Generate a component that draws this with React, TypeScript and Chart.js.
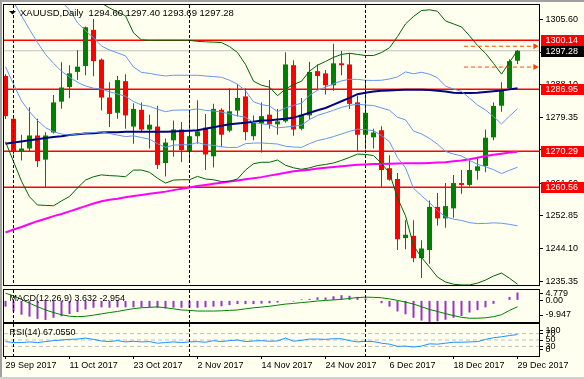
import React, { useEffect, useRef } from 'react';
import { Chart, registerables } from 'chart.js';

Chart.register(...registerables);

const FONT = "'Liberation Sans', Arial, sans-serif";
const BG = '#FFFFF0';

// ---------- data ----------
const dateLabels = ['29 Sep 2017', '11 Oct 2017', '23 Oct 2017', '2 Nov 2017', '14 Nov 2017', '24 Nov 2017', '6 Dec 2017', '18 Dec 2017', '29 Dec 2017'];
const dateLabelBars = [0, 8, 16, 24, 32, 40, 48, 56, 64];
const monthStartBars = [1, 23, 45];

const opens = [
  1290.5, 1279.0, 1270.1, 1271.0, 1274.5, 1268.0, 1275.3, 1283.6, 1287.5, 1291.6,
  1293.2, 1302.9, 1294.9, 1284.7, 1280.6, 1289.1, 1276.9, 1281.4, 1276.1, 1276.9,
  1267.1, 1273.2, 1276.1, 1270.1, 1274.3, 1276.6, 1268.9, 1281.4, 1275.8, 1281.2,
  1285.0, 1274.3, 1277.7, 1280.1, 1277.5, 1278.3, 1293.4, 1276.3, 1279.9, 1291.8,
  1291.2, 1288.0, 1293.9, 1293.6, 1283.4, 1274.7, 1274.0, 1275.9, 1265.7, 1262.8,
  1246.9, 1247.5, 1241.5, 1243.7, 1255.3, 1252.2, 1254.9, 1261.7, 1261.2, 1265.0,
  1266.3, 1274.0, 1282.5, 1287.2, 1294.60];
const highs = [
  1291.0, 1279.5, 1274.7, 1282.1, 1279.0, 1275.4, 1285.4, 1294.2, 1293.4, 1297.4,
  1303.8, 1305.8, 1295.2, 1288.8, 1290.5, 1291.0, 1283.2, 1283.4, 1280.1, 1282.5,
  1273.7, 1278.5, 1278.1, 1281.2, 1284.0, 1280.3, 1283.0, 1281.8, 1287.2, 1288.3,
  1287.2, 1279.9, 1283.4, 1289.4, 1281.65, 1296.9, 1294.7, 1284.6, 1294.3, 1293.6,
  1292.1, 1299.2, 1297.2, 1296.6, 1285.2, 1289.2, 1276.3, 1277.0, 1269.2, 1264.4,
  1251.7, 1251.7, 1246.3, 1257.0, 1259.0, 1261.7, 1263.9, 1265.2, 1267.9, 1268.8,
  1276.1, 1283.4, 1288.8, 1295.0, 1297.40];
const lows = [
  1278.9, 1269.4, 1267.8, 1270.1, 1266.0, 1260.5, 1275.0, 1281.7, 1284.5, 1289.4,
  1290.7, 1290.4, 1281.2, 1276.8, 1279.0, 1276.3, 1272.3, 1275.4, 1271.0, 1265.5,
  1263.5, 1268.8, 1267.3, 1267.6, 1272.3, 1265.2, 1265.9, 1271.5, 1275.4, 1279.6,
  1273.2, 1273.2, 1269.9, 1276.3, 1274.7, 1277.9, 1274.4, 1275.9, 1278.8, 1286.97,
  1285.5, 1286.5, 1290.7, 1281.65, 1270.3, 1270.8, 1271.0, 1260.5, 1262.3, 1243.7,
  1243.9, 1240.4, 1236.2, 1240.0, 1250.3, 1249.7, 1252.4, 1258.8, 1260.8, 1262.6,
  1264.6, 1273.2, 1280.9, 1286.8, 1293.69];
const closes = [
  1279.7, 1270.1, 1271.0, 1274.5, 1267.6, 1274.5, 1283.4, 1287.4, 1291.2, 1293.0,
  1303.6, 1294.5, 1284.7, 1280.3, 1289.4, 1279.9, 1281.65, 1276.1, 1277.4, 1266.6,
  1272.6, 1276.1, 1270.6, 1274.3, 1275.6, 1269.4, 1281.65, 1274.7, 1281.0, 1284.6,
  1275.4, 1277.9, 1279.7, 1277.5, 1278.3, 1293.6, 1276.1, 1280.1, 1291.6, 1290.5,
  1288.0, 1293.9, 1293.4, 1283.0, 1274.7, 1280.6, 1275.3, 1265.2, 1262.6, 1246.6,
  1247.8, 1241.5, 1244.1, 1255.3, 1252.2, 1255.5, 1261.7, 1261.2, 1265.2, 1266.2,
  1273.9, 1282.45, 1286.5, 1294.5, 1297.28];

// Bollinger (20, 2) – green
const bbUpper = [
  1352, 1349, 1345, 1341, 1337, 1333, 1329, 1325, 1321, 1318,
  1315.5, 1312.5, 1310.1, 1308.8, 1307.7, 1306.7, 1302.1, 1300.2, 1300.1, 1300.1,
  1300.1, 1300.1, 1300.1, 1300.1, 1299.8, 1299.7, 1299.6, 1299.5, 1298.4, 1296.8,
  1293.6, 1289.1, 1288.0, 1287.5, 1285.2, 1287.0, 1288.2, 1289.1, 1291.8, 1293.4,
  1294.4, 1295.5, 1296.3, 1296.6, 1296.3, 1296.0, 1296.0, 1296.8, 1298.1, 1301.1,
  1304.5, 1306.5, 1308.1, 1308.3, 1307.9, 1305.3, 1304.5, 1303.7, 1301.3, 1298.7,
  1296.6, 1293.9, 1291.0, 1294.2, 1297.4];
const bbLower = [
  1272.8, 1267.5, 1262.2, 1258.0, 1255.8, 1255.7, 1255.6, 1256.9, 1258.1, 1260.4,
  1262.5, 1263.4, 1263.9, 1263.7, 1263.6, 1263.4, 1265.2, 1265.2, 1264.6, 1263.0,
  1261.7, 1262.5, 1262.6, 1262.6, 1263.5, 1262.8, 1262.6, 1262.1, 1262.2, 1262.8,
  1265.2, 1266.9, 1267.3, 1267.3, 1267.9, 1266.5, 1265.8, 1265.4, 1265.8, 1266.4,
  1266.7, 1267.1, 1267.8, 1268.6, 1269.5, 1269.4, 1269.1, 1267.0, 1264.4, 1257.7,
  1252.9, 1244.9, 1241.7, 1239.1, 1236.4, 1235.1, 1234.5, 1234.3, 1234.3, 1234.8,
  1235.6, 1236.7, 1237.5, 1236.1, 1234.5];
// Bollinger (20, 1) and middle – light blue
const band1Upper = [
  1318, 1317, 1316, 1315.5, 1315, 1314, 1312.5, 1310.5, 1308.3, 1304.8,
  1302.7, 1300.8, 1298.55, 1297.5, 1296.7, 1295.9, 1292.9, 1291.45, 1291.2, 1290.8,
  1290.5, 1290.7, 1290.7, 1290.7, 1290.7, 1290.5, 1290.35, 1290.15, 1289.35, 1288.3,
  1286.5, 1283.55, 1282.8, 1282.45, 1280.9, 1281.9, 1282.6, 1283.2, 1285.3, 1286.65,
  1287.5, 1288.4, 1289.2, 1289.6, 1289.6, 1289.35, 1289.3, 1289.35, 1289.7, 1290.25,
  1291.6, 1291.1, 1291.5, 1291.0, 1290.0, 1287.75, 1287.0, 1286.35, 1284.55, 1282.7,
  1281.35, 1279.6, 1277.6, 1279.7, 1281.7];
const sma20 = [
  1312.3, 1310.4, 1306.7, 1303.0, 1299.5, 1296.3, 1293.9, 1291.8, 1290.2, 1288.8,
  1287.8, 1287.2, 1287.0, 1286.25, 1285.65, 1285.05, 1283.65, 1282.7, 1282.35, 1281.55,
  1280.9, 1281.3, 1281.35, 1281.35, 1281.65, 1281.25, 1281.1, 1280.8, 1280.3, 1279.8,
  1279.4, 1278.0, 1277.65, 1277.4, 1276.55, 1276.75, 1277.0, 1277.25, 1278.8, 1279.9,
  1280.55, 1281.3, 1282.05, 1282.6, 1282.9, 1282.7, 1282.55, 1281.9, 1281.25, 1279.4,
  1278.7, 1275.7, 1274.9, 1273.7, 1272.15, 1270.2, 1269.5, 1269.0, 1267.8, 1266.75,
  1266.1, 1265.3, 1264.25, 1265.15, 1265.95];
const band1Lower = [
  1293.0, 1288.3, 1283.8, 1280.9, 1278.5, 1276.6, 1275.5, 1274.9, 1274.6, 1274.9,
  1275.1, 1275.3, 1275.45, 1275.0, 1274.6, 1274.2, 1274.4, 1273.95, 1273.5, 1272.3,
  1271.3, 1271.9, 1272.0, 1272.0, 1272.6, 1272.0, 1271.85, 1271.45, 1271.25, 1271.3,
  1272.3, 1272.45, 1272.5, 1272.35, 1272.2, 1271.6, 1271.4, 1271.3, 1272.3, 1273.15,
  1273.6, 1274.2, 1274.9, 1275.6, 1276.2, 1276.05, 1275.8, 1274.45, 1272.8, 1268.55,
  1265.8, 1260.3, 1258.3, 1256.4, 1254.3, 1252.65, 1252.0, 1251.65, 1251.05, 1250.8,
  1250.85, 1251.0, 1250.9, 1250.6, 1250.2];
// slow moving averages
const sma100 = [
  1272.3, 1272.6, 1272.9, 1273.2, 1273.5, 1273.8, 1274.1, 1274.3, 1274.6, 1274.8,
  1275.0, 1275.1, 1275.3, 1275.4, 1275.4, 1275.5, 1275.5, 1275.5, 1275.5, 1275.5,
  1275.5, 1275.6, 1275.7, 1275.8, 1275.9, 1276.3, 1276.7, 1277.1, 1277.5, 1277.7,
  1277.9, 1278.2, 1278.5, 1278.6, 1278.8, 1279.0, 1279.3, 1279.9, 1280.6, 1281.3,
  1281.9, 1282.8, 1283.7, 1284.6, 1285.6, 1286.0, 1286.3, 1286.5, 1286.6, 1286.7,
  1286.8, 1286.8, 1286.8, 1286.7, 1286.5, 1286.3, 1286.0, 1285.9, 1285.9, 1286.0,
  1286.2, 1286.4, 1286.6, 1286.9, 1287.2];
const sma200 = [
  1248.4, 1249.2, 1249.9, 1250.7, 1251.45, 1252.1, 1252.8, 1253.4, 1254.1, 1254.8,
  1255.5, 1256.2, 1256.8, 1257.2, 1257.5, 1257.9, 1258.2, 1258.5, 1258.8, 1259.1,
  1259.4, 1259.8, 1260.2, 1260.5, 1260.9, 1261.2, 1261.5, 1261.8, 1262.1, 1262.4,
  1262.7, 1263.0, 1263.3, 1263.7, 1264.1, 1264.5, 1264.9, 1265.1, 1265.3, 1265.6,
  1265.8, 1266.0, 1266.2, 1266.4, 1266.6, 1266.7, 1266.8, 1266.85, 1266.9, 1266.95,
  1267.0, 1267.0, 1267.0, 1267.1, 1267.2, 1267.3, 1267.55, 1267.8, 1268.1, 1268.5,
  1269.0, 1269.3, 1269.6, 1269.9, 1270.1];

const macdMain = [
  -2.9, -5.1, -6.6, -7.5, -8.5, -9.0, -8.0, -7.3, -6.3, -5.4,
  -4.2, -3.4, -3.2, -3.4, -3.2, -3.2, -3.2, -3.2, -3.2, -3.4,
  -3.7, -3.4, -3.4, -3.4, -3.4, -3.2, -2.9, -2.7, -2.2, -1.7,
  -1.7, -1.7, -1.5, -1.3, -1.0, -0.3, -0.5, 0.5, 0.7, 1.4,
  1.3, 1.9, 2.4, 2.1, 1.6, 0.9, 0.3, -1.3, -2.9, -5.1,
  -6.4, -8.0, -9.3, -9.9, -9.6, -8.9, -8.0, -7.2, -5.6, -4.5,
  -3.2, -1.6, 0.0, 1.6, 3.632];
const macdSignal = [
  3.3, 2.1, 0.4, -1.3, -2.9, -4.4, -5.6, -6.6, -7.3, -7.5,
  -7.3, -6.8, -6.2, -5.6, -5.1, -4.4, -3.8, -3.4, -3.2, -3.0,
  -3.4, -3.9, -4.4, -4.6, -4.9, -4.9, -4.9, -4.8, -4.6, -4.4,
  -3.9, -3.4, -3.1, -2.7, -2.2, -1.7, -1.4, -1.0, -0.7, -0.3,
  0.0, 0.2, 0.5, 0.9, 1.3, 1.5, 1.4, 1.2, 0.7, 0.0,
  -0.8, -1.7, -2.9, -4.2, -5.1, -6.1, -7.0, -7.8, -8.2, -8.2,
  -8.0, -7.5, -6.6, -4.6, -2.954];
const rsiValues = [
  45, 42, 42, 44, 42, 45, 48, 50, 52, 53,
  56, 52, 47, 45, 48, 44, 46, 44, 45, 40,
  42, 44, 42, 44, 45, 43, 48, 45, 48, 50,
  45, 47, 48, 46, 47, 56, 46, 49, 53, 53,
  52, 54, 54, 48, 44, 46, 45, 40, 37, 30,
  31, 28, 31, 38, 37, 40, 43, 43, 44, 45,
  52, 57, 60, 64, 67.055];

const priceTicks = [1305.6, 1296.85, 1288.1, 1279.35, 1270.6, 1261.6, 1252.85, 1244.1, 1235.35];
const redLevels = [1300.14, 1286.95, 1270.29, 1260.56];
const bidPrice = 1297.28;
const arrowLevels = [1298.5, 1292.9];
const arrowBars = [57.3, 66.2];
const macdTickValues = [2.94, 0, -6.73];
const macdTickLabels = ['4.779', '0.00', '-9.947'];
const rsiTickValues = [80, 70, 50, 30, 19];
const rsiTickLabels = ['100', '70', '50', '30', '0'];
const rsiLevels = [70, 50, 30];

const titleMain = 'XAUUSD,Daily  1294.60 1297.40 1293.69 1297.28';
const titleMacd = 'MACD(12,26,9) 3.632 -2.954';
const titleRsi = 'RSI(14) 67.0550';

// ---------- helpers ----------
const X_MIN = -0.1875;
const X_MAX = 66.6875;
const series = (arr: number[]) => arr.map((y, x) => ({ x, y }));
const flat = (v: number, a = X_MIN, b = X_MAX) => [{ x: a, y: v }, { x: b, y: v }];

const lineDs = (data: any, color: string, width: number, order: number, extra: any = {}) => ({
  type: 'line', data, borderColor: color, borderWidth: width, pointRadius: 0,
  fill: false, tension: 0, order, ...extra,
});

function hiddenX() {
  return { type: 'linear', min: X_MIN, max: X_MAX, offset: false, display: false };
}

function rightY(min: number, max: number, values: number[], label: (v: any, i: number) => string) {
  return {
    type: 'linear', position: 'right', min, max,
    afterFit: (s: any) => { s.width = 45; s.paddingTop = 0; s.paddingBottom = 0; },
    afterBuildTicks: (s: any) => { s.ticks = values.map((v) => ({ value: v })); },
    grid: { drawOnChartArea: false, drawTicks: true, tickLength: 4, color: '#000', lineWidth: 1 },
    border: { display: false },
    ticks: { autoSkip: false, padding: 2.5, color: '#000', font: { family: FONT, size: 9 }, callback: label },
  };
}

function decorPlugin(title: string, titleX: number, titleY: number, extra?: (chart: any) => void, triangle = false) {
  return {
    id: 'decor_' + title.length,
    afterDatasetsDraw(chart: any) {
      const { ctx, chartArea: a, scales } = chart;
      ctx.save();
      ctx.strokeStyle = '#000';
      ctx.lineWidth = 1;
      ctx.setLineDash([3, 2]);
      monthStartBars.forEach((b) => {
        const px = scales.x.getPixelForValue(b);
        ctx.beginPath();
        ctx.moveTo(px, a.top);
        ctx.lineTo(px, a.bottom);
        ctx.stroke();
      });
      ctx.restore();
    },
    afterDraw(chart: any) {
      const { ctx, chartArea: a } = chart;
      ctx.save();
      ctx.strokeStyle = '#000';
      ctx.lineWidth = 1;
      ctx.strokeRect(a.left - 0.5, a.top - 0.5, a.right - a.left + 1, a.bottom - a.top + 1);
      if (extra) extra(chart);
      ctx.fillStyle = '#000';
      if (triangle) {
        ctx.beginPath();
        ctx.moveTo(9, 11);
        ctx.lineTo(16, 11);
        ctx.lineTo(12.5, 14.5);
        ctx.closePath();
        ctx.fill();
      }
      ctx.font = `${triangle ? 9.5 : 9}px ${FONT}`;
      ctx.textBaseline = 'middle';
      ctx.textAlign = 'left';
      ctx.fillText(title, titleX, titleY);
      ctx.restore();
    },
  };
}

function priceBoxes(chart: any) {
  const { ctx, scales } = chart;
  const boxes = [
    ...redLevels.map((v) => ({ v, c: '#FF0000' })),
    { v: bidPrice, c: '#000000' },
  ];
  ctx.font = `9px ${FONT}`;
  ctx.textBaseline = 'middle';
  ctx.textAlign = 'left';
  boxes.forEach(({ v, c }) => {
    const y = Math.round(scales.y.getPixelForValue(v));
    ctx.fillStyle = c;
    ctx.fillRect(541, y - 5, 43, 11);
    ctx.fillStyle = '#FFFFFF';
    ctx.fillText(v.toFixed(2), 545.5, y + 0.5);
  });
}

function mainConfig(): any {
  const colors = closes.map((c, i) => (c >= opens[i] ? '#008000' : '#FF0000'));
  return {
    type: 'bar',
    data: {
      datasets: [
        ...redLevels.map((v) => lineDs(flat(v), '#FF0000', 1.5, 40)),
        lineDs(flat(bidPrice), '#C0C0C0', 1, 41),
        {
          type: 'bar', data: lows.map((l, i) => ({ x: i, y: [l, highs[i]] })),
          backgroundColor: colors, borderWidth: 0, grouped: false, maxBarThickness: 1,
          inflateAmount: 0, minBarLength: 1, order: 20,
        },
        {
          type: 'bar', data: opens.map((o, i) => ({ x: i, y: [o, closes[i]] })),
          backgroundColor: colors, borderWidth: 0, grouped: false, maxBarThickness: 5,
          inflateAmount: 0, minBarLength: 1, order: 19,
        },
        lineDs(series(sma200), '#FF00FF', 2, 6),
        lineDs(series(sma100), '#000080', 2, 5),
        lineDs(series(band1Upper), '#6495ED', 1, 4),
        lineDs(series(sma20), '#6495ED', 1, 4),
        lineDs(series(band1Lower), '#6495ED', 1, 4),
        lineDs(series(bbUpper), '#006400', 1, 3),
        lineDs(series(bbLower), '#006400', 1, 3),
        ...arrowLevels.map((v) => lineDs(flat(v, arrowBars[0], arrowBars[1]), '#FF4500', 1, 1, {
          borderDash: [4, 3],
          pointRadius: (c: any) => (c.dataIndex === 1 ? 3.5 : 0),
          pointStyle: 'triangle', rotation: 90,
          pointBackgroundColor: '#FF4500', pointBorderColor: '#FF4500', pointBorderWidth: 0,
        })),
      ],
    },
    options: {
      responsive: false, animation: false, events: [],
      layout: { padding: { left: 4, top: 5, right: 0, bottom: 1 } },
      plugins: { legend: { display: false }, tooltip: { enabled: false } },
      scales: {
        x: hiddenX(),
        y: rightY(1234.286, 1309.591, priceTicks, (v: any) => Number(v).toFixed(2)),
      },
    },
    plugins: [decorPlugin(titleMain, 20, 13, priceBoxes, true)],
  };
}

function macdConfig(): any {
  return {
    type: 'bar',
    data: {
      datasets: [
        {
          type: 'bar', data: series(macdMain), backgroundColor: '#9932CC', borderWidth: 0,
          grouped: false, maxBarThickness: 2, inflateAmount: 0, order: 5,
        },
        lineDs(series(macdSignal), '#008000', 1, 1),
      ],
    },
    options: {
      responsive: false, animation: false, events: [],
      layout: { padding: { left: 4, top: 1, right: 0, bottom: 1 } },
      plugins: { legend: { display: false }, tooltip: { enabled: false } },
      scales: {
        x: hiddenX(),
        y: rightY(-9.947, 4.779, macdTickValues, (_v: any, i: number) => macdTickLabels[i]),
      },
    },
    plugins: [decorPlugin(titleMacd, 9.5, 9.5)],
  };
}

function rsiConfig(): any {
  return {
    type: 'line',
    data: {
      datasets: [
        ...rsiLevels.map((v) => lineDs(flat(v), '#C0C0C0', 1, 5, { borderDash: [4, 3] })),
        lineDs(series(rsiValues), '#1E90FF', 1, 1),
      ],
    },
    options: {
      responsive: false, animation: false, events: [],
      layout: { padding: { left: 4, top: 1, right: 0, bottom: 0 } },
      plugins: { legend: { display: false }, tooltip: { enabled: false } },
      scales: {
        x: {
          type: 'linear', min: X_MIN, max: X_MAX, offset: false, position: 'bottom',
          afterBuildTicks: (s: any) => { s.ticks = dateLabelBars.map((v) => ({ value: v })); },
          afterFit: (s: any) => { s.height = 23; s.paddingLeft = 0; s.paddingRight = 0; },
          grid: { drawOnChartArea: false, drawTicks: true, tickLength: 3, color: '#000' },
          border: { display: false },
          ticks: {
            autoSkip: false, maxRotation: 0, minRotation: 0, align: 'start', padding: 1,
            color: '#000', font: { family: FONT, size: 9 },
            callback: (_v: any, i: number) => dateLabels[i],
          },
        },
        y: rightY(0, 100, rsiTickValues, (_v: any, i: number) => rsiTickLabels[i]),
      },
    },
    plugins: [decorPlugin(titleRsi, 9.5, 10)],
  };
}

export default function App() {
  const mainRef = useRef<HTMLCanvasElement>(null);
  const macdRef = useRef<HTMLCanvasElement>(null);
  const rsiRef = useRef<HTMLCanvasElement>(null);

  useEffect(() => {
    Chart.defaults.font.family = FONT;
    Chart.defaults.font.size = 9;
    Chart.defaults.color = '#000';
    const charts = [
      new Chart(mainRef.current as HTMLCanvasElement, mainConfig()),
      new Chart(macdRef.current as HTMLCanvasElement, macdConfig()),
      new Chart(rsiRef.current as HTMLCanvasElement, rsiConfig()),
    ];
    return () => charts.forEach((c) => c.destroy());
  }, []);

  const abs = (top: number, h: number): React.CSSProperties => ({
    position: 'absolute', left: 0, top, width: 584, height: h, display: 'block',
  });

  return (
    <div style={{ position: 'fixed', left: 0, top: 0, width: 584, height: 379, background: BG, overflow: 'hidden' }}>
      <canvas ref={mainRef} width={584} height={289} style={abs(0, 289)} />
      <canvas ref={macdRef} width={584} height={34} style={abs(289, 34)} />
      <canvas ref={rsiRef} width={584} height={56} style={abs(323, 56)} />
      <div style={{ position: 'absolute', left: 0, top: 0, width: 584, height: 2, background: '#A0A0A0' }} />
      <div style={{ position: 'absolute', left: 0, top: 0, width: 2, height: 379, background: '#A0A0A0' }} />
      <div style={{ position: 'absolute', left: 0, top: 377, width: 584, height: 2, background: '#D0D0D0' }} />
    </div>
  );
}
